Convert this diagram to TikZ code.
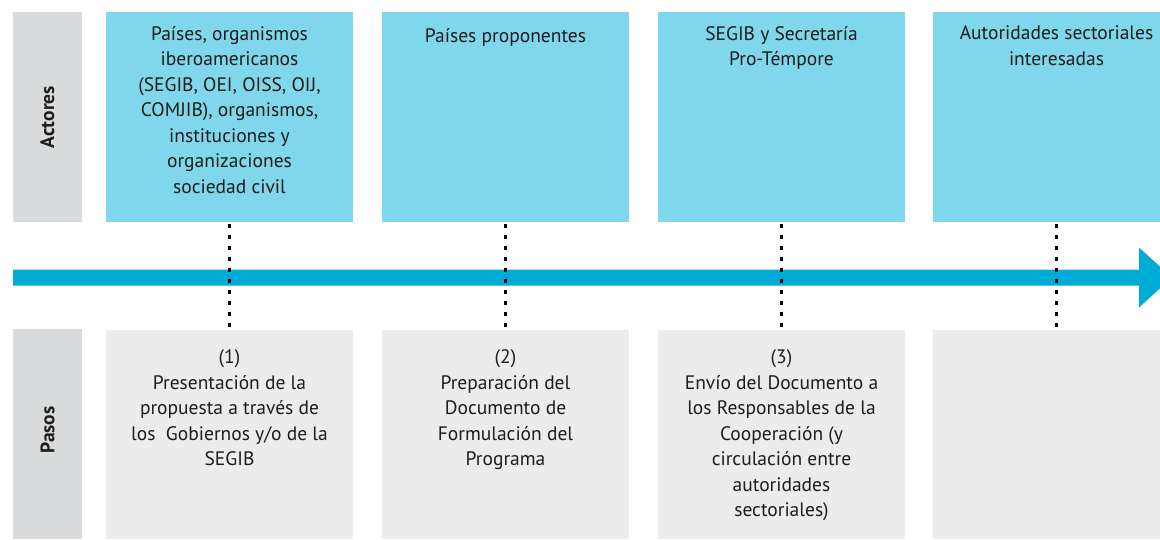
\documentclass[tikz,border=0pt]{standalone}
\usepackage{fontspec}
\setmainfont{PT Sans}
\definecolor{actfill}{HTML}{80D6EA}
\definecolor{stepfill}{HTML}{EBECEB}
\definecolor{barfill}{HTML}{D9DADB}
\definecolor{arrowc}{HTML}{00ABD5}
\definecolor{txtc}{HTML}{1D1D1B}
\begin{document}
\begin{tikzpicture}[x=1pt,y=-1pt,
  every node/.style={inner sep=0pt, outer sep=0pt},
  actbox/.style={fill=actfill, minimum width=247pt, minimum height=209.5pt, anchor=north west},
  stepbox/.style={fill=stepfill, minimum width=247pt, minimum height=209.5pt, anchor=north west},
  sidebar/.style={fill=barfill, minimum width=69pt, minimum height=210pt, anchor=north west},
  sidelabel/.style={rotate=90, font=\fontsize{19.5}{24}\selectfont\bfseries, text=txtc},
  boxtext/.style={anchor=north, align=center, font=\fontsize{19.5}{25.5}\selectfont, text=txtc,
    execute at begin node={\rule{0pt}{16pt}}},
  dashline/.style={draw=black, line width=2.4pt, dash pattern=on 4.5pt off 6.5pt, shorten <=2pt, shorten >=3pt}
]
\useasboundingbox (0,0) rectangle (1160,539);
% side bars
\node[sidebar] (sa) at (13,12) {};
\node[sidebar] (sp) at (13,329) {};
\node[sidelabel] (la) at (sa.center) {Actores};
\node[sidelabel] (lp) at ([yshift=4pt]sp.center) {Pasos};
% actor boxes
\node[actbox] (a1) at (106,12) {};
\node[actbox] (a2) at (382,12) {};
\node[actbox] (a3) at (658,12) {};
\node[actbox] (a4) at (933,12) {};
% step boxes
\node[stepbox] (p1) at (106,329.5) {};
\node[stepbox] (p2) at (382,329.5) {};
\node[stepbox] (p3) at (658,329.5) {};
\node[stepbox] (p4) at (933,329.5) {};
% texts
\node[boxtext] (ta1) at ([yshift=-14pt]a1.north) {Países, organismos\\iberoamericanos\\(SEGIB, OEI, OISS, OIJ,\\COMJIB), organismos,\\instituciones y\\organizaciones\\sociedad civil};
\node[boxtext] (ta2) at ([yshift=-14pt]a2.north) {Países proponentes};
\node[boxtext] (ta3) at ([yshift=-14pt]a3.north) {SEGIB y Secretaría\\Pro-Témpore};
\node[boxtext] (ta4) at ([yshift=-14pt]a4.north) {Autoridades sectoriales\\interesadas};
\node[boxtext] (tp1) at ([yshift=-20.5pt]p1.north) {(1)\\Presentación de la\\propuesta a través de\\los\ \ Gobiernos y/o de la\\SEGIB};
\node[boxtext] (tp2) at ([yshift=-20.5pt]p2.north) {(2)\\Preparación del\\Documento de\\Formulación del\\Programa};
\node[boxtext] (tp3) at ([yshift=-20.5pt]p3.north) {(3)\\Envío del Documento a\\los Responsables de la\\Cooperación (y\\circulación entre\\autoridades\\sectoriales)};
% timeline arrow
\fill[arrowc] (13,269.5) -- (1139,269.5) -- (1139,247.5) -- (1172,277.5) -- (1139,307.5) -- (1139,285.5) -- (13,285.5) -- cycle;
% dashed connectors
\draw[dashline] (a1.south) -- (p1.north);
\draw[dashline] (a2.south) -- (p2.north);
\draw[dashline] (a3.south) -- (p3.north);
\draw[dashline] (a4.south) -- (p4.north);
\end{tikzpicture}
\end{document}
